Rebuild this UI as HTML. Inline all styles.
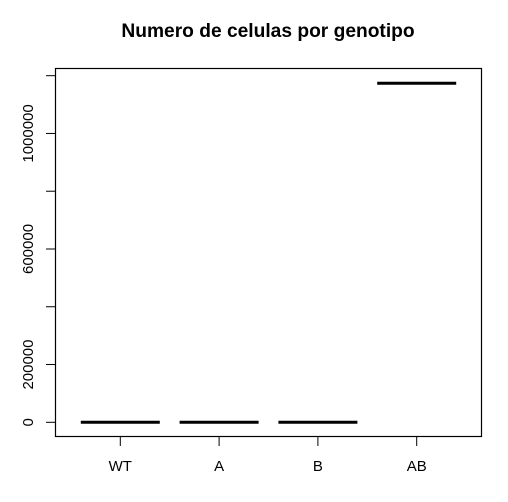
<!DOCTYPE html>
<html><head><meta charset="utf-8"><style>
body{margin:0;background:#fff}
svg{display:block;font-family:"Liberation Sans",Arial,sans-serif}
</style></head><body>
<svg id="chart" width="508" height="502">
<text x="268" y="37" text-anchor="middle" font-size="19.2" font-weight="bold">Numero de celulas por genotipo</text>
<rect x="55.5" y="68.5" width="426" height="368" fill="none" stroke="#000" stroke-width="1.2"/>
<g id="axes"></g><g id="marks"></g>
</svg>
<script>
const categories = ["WT","A","B","AB"];
const medians = [0, 0, 0, 1174000];
const yTicks = [0,200000,400000,600000,800000,1000000,1200000];
const yTickLabels = ["0","200000","","600000","","1000000",""];
const ns="http://www.w3.org/2000/svg";
function y(v){return 422.3 - v/200000*57.77;}
function x(i){return 120.3 + i*98.8;}
function mk(t,a,p){const e=document.createElementNS(ns,t);for(const k in a)e.setAttribute(k,a[k]);p.appendChild(e);return e;}
const axes=document.getElementById('axes'), marks=document.getElementById('marks');
yTicks.forEach((v,i)=>{
  const t=mk('line',{x1:46,x2:55.5,y1:y(v),y2:y(v),stroke:'#000','stroke-width':1},axes);
  
  
  if(yTickLabels[i]){
    const l=mk('text',{x:0,y:0,'text-anchor':'middle','font-size':15,transform:`translate(33,${y(v)}) rotate(-90)`},axes);
    l.textContent=yTickLabels[i];
    
    
  }
});
categories.forEach((c,i)=>{
  const t=mk('line',{x1:x(i),x2:x(i),y1:436.5,y2:446,stroke:'#000','stroke-width':1},axes);
  
  
  const l=mk('text',{x:x(i),y:471,'text-anchor':'middle','font-size':15},axes);
  l.textContent=c;
  
  
  const m=mk('line',{x1:x(i)-39.5,x2:x(i)+39.5,y1:y(medians[i]),y2:y(medians[i]),stroke:'#000','stroke-width':3},marks);
  
  
});
</script>
</body></html>
